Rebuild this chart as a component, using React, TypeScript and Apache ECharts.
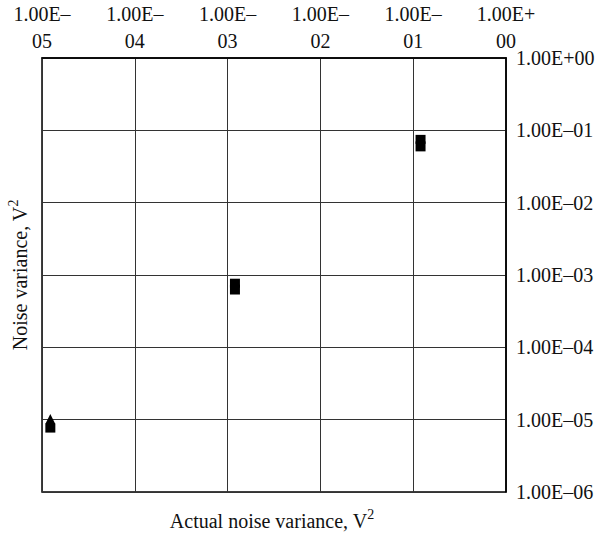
import React, { useEffect, useRef } from "react";
import * as echarts from "echarts";

// Actual vs. estimated noise variance (log–log), three test levels
const xTickLabels = ["1.00E–\n05", "1.00E–\n04", "1.00E–\n03", "1.00E–\n02", "1.00E–\n01", "1.00E+\n00"];
const yTickLabels = ["1.00E–06", "1.00E–05", "1.00E–04", "1.00E–03", "1.00E–02", "1.00E–01", "1.00E+00"];

const actualVariance = [1.23e-5, 1.2e-3, 0.12];
const estimateA = [7.65e-6, 7.7e-4, 0.075];
const estimateB = [1.02e-5, 6.3e-4, 0.06];

const FONT = "'Liberation Serif', 'DejaVu Serif', serif";

const titleRich = {
  t: { fontFamily: FONT, fontSize: 20, lineHeight: 24, fill: "#111", verticalAlign: "bottom" },
  s: { fontFamily: FONT, fontSize: 14, lineHeight: 24, fill: "#111", verticalAlign: "top" },
};

export default function App() {
  const ref = useRef<HTMLDivElement>(null);

  useEffect(() => {
    if (!ref.current) return;
    const chart = echarts.init(ref.current, undefined, { renderer: "svg" });
    const pairs = (ys: number[]) => actualVariance.map((x, i) => [x, ys[i]]);

    chart.setOption({
      animation: false,
      backgroundColor: "#fff",
      textStyle: { fontFamily: FONT },
      grid: { left: 42, right: 94, top: 57, bottom: 44, show: true, borderColor: "#000", borderWidth: 1.5 },
      xAxis: {
        type: "log",
        logBase: 10,
        position: "top",
        min: 1e-5,
        max: 1,
        axisLine: { show: true, lineStyle: { color: "#000", width: 1.5 } },
        axisTick: { show: false },
        splitLine: { show: true, lineStyle: { color: "#333", width: 1 } },
        axisLabel: {
          fontFamily: FONT,
          fontSize: 20,
          lineHeight: 27,
          color: "#111",
          margin: 4,
          formatter: (v: number) => xTickLabels[Math.round(Math.log10(v)) + 5] ?? "",
        },
      },
      yAxis: {
        type: "log",
        logBase: 10,
        position: "right",
        min: 1e-6,
        max: 1,
        axisLine: { show: true, lineStyle: { color: "#000", width: 1.5 } },
        axisTick: { show: false },
        splitLine: { show: true, lineStyle: { color: "#333", width: 1 } },
        axisLabel: {
          fontFamily: FONT,
          fontSize: 20,
          color: "#111",
          margin: 10,
          formatter: (v: number) => yTickLabels[Math.round(Math.log10(v)) + 6] ?? "",
        },
      },
      series: [
        {
          name: "Estimate B",
          type: "scatter",
          symbolSize: [10, 10],
          itemStyle: { color: "#000", opacity: 1 },
          data: pairs(estimateB).map((p, i) => ({ value: p, symbol: i === 0 ? "triangle" : "rect" })),
        },
        {
          name: "Estimate A",
          type: "scatter",
          symbol: "rect",
          symbolSize: [10, 9],
          itemStyle: { color: "#000", opacity: 1 },
          data: pairs(estimateA),
        },
      ],
      graphic: [
        {
          type: "text",
          x: 272,
          y: 519,
          style: {
            text: "{t|Actual noise variance, V}{s|2}",
            rich: titleRich,
            textAlign: "center",
            textVerticalAlign: "middle",
          },
        },
        {
          type: "text",
          x: 18,
          y: 275,
          rotation: Math.PI / 2,
          style: {
            text: "{t|Noise variance, V}{s|2}",
            rich: titleRich,
            textAlign: "center",
            textVerticalAlign: "middle",
          },
        },
      ],
    });
    return () => chart.dispose();
  }, []);

  return (
    <div
      ref={ref}
      style={{ position: "absolute", left: 0, top: 0, width: 600, height: 536, background: "#fff" }}
    />
  );
}
